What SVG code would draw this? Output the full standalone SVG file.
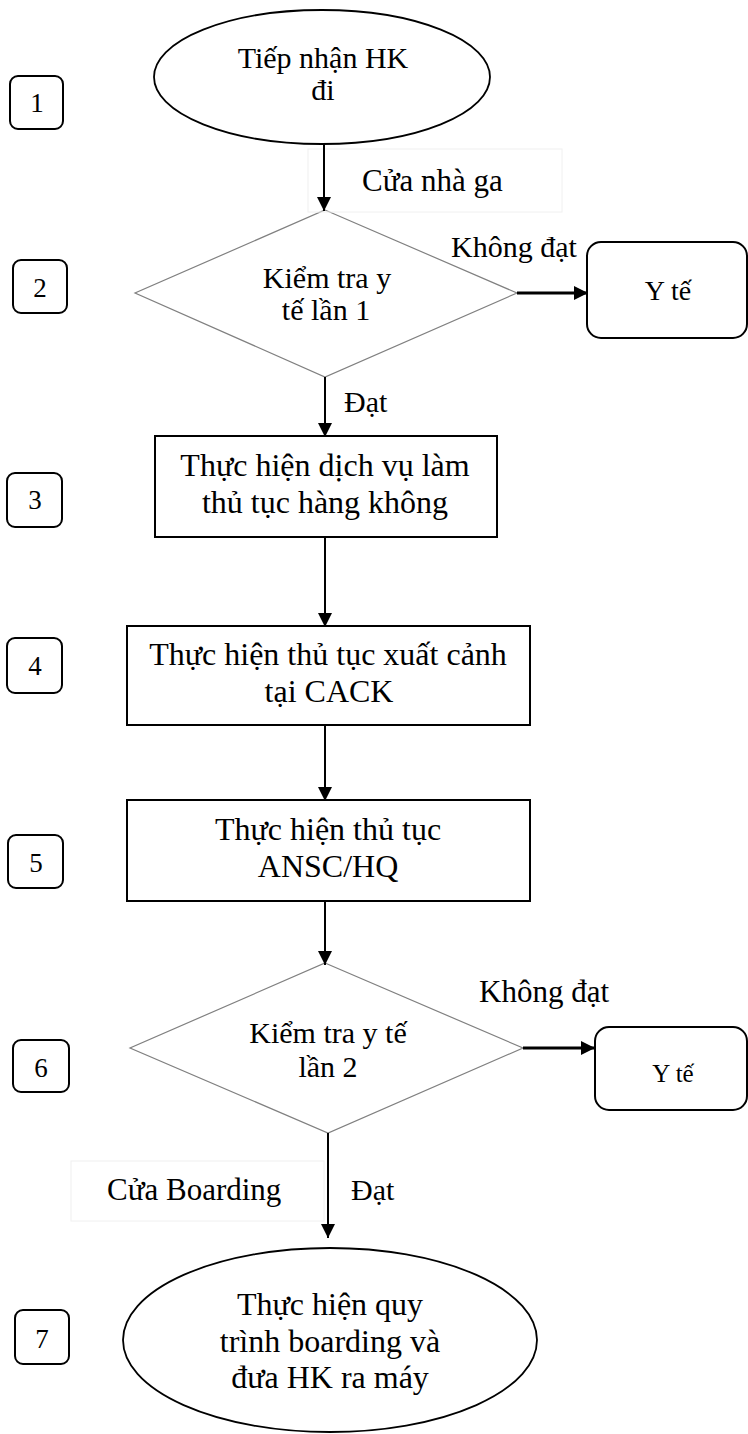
<svg xmlns="http://www.w3.org/2000/svg" width="748" height="1434" viewBox="0 0 748 1434">
<defs>
<marker id="ah" markerUnits="userSpaceOnUse" markerWidth="16" markerHeight="16" refX="14" refY="7" orient="auto">
<path d="M0,0 L14,7 L0,14 Z" fill="#000"/>
</marker>
<style>
text{font-family:"Liberation Serif","Times New Roman",serif;fill:#000}
.t30{font-size:30px}
.t32{font-size:32px}
.num{font-size:27px;text-anchor:middle}
.c{text-anchor:middle}
.nb{fill:#fff;stroke:#000;stroke-width:2}
.box{fill:#fff;stroke:#000;stroke-width:2}
.dia{fill:#fff;stroke:#808080;stroke-width:1.2}
.ell{fill:#fff;stroke:#000;stroke-width:1.8}
.conn{stroke:#000;stroke-width:2;fill:none}
.thick{stroke-width:3}
.faint{fill:none;stroke:#f0f0f0;stroke-width:1}
</style>
</defs>
<rect width="748" height="1434" fill="#fff"/>

<g id="n1-label"><rect class="nb" x="10" y="76" width="53" height="53" rx="8"/><text class="num" x="37" y="112">1</text></g>
<g id="n2-label"><rect class="nb" x="13" y="260" width="54" height="53" rx="8"/><text class="num" x="40" y="297">2</text></g>
<g id="n3-label"><rect class="nb" x="7" y="473" width="55" height="54" rx="8"/><text class="num" x="35" y="509">3</text></g>
<g id="n4-label"><rect class="nb" x="7" y="638" width="55" height="55" rx="8"/><text class="num" x="35" y="675">4</text></g>
<g id="n5-label"><rect class="nb" x="8" y="835" width="55" height="53" rx="8"/><text class="num" x="36" y="872">5</text></g>
<g id="n6-label"><rect class="nb" x="13" y="1040" width="56" height="52" rx="8"/><text class="num" x="41" y="1077">6</text></g>
<g id="n7-label"><rect class="nb" x="15" y="1310" width="54" height="54" rx="8"/><text class="num" x="42" y="1348">7</text></g>

<g id="start">
<ellipse class="ell" cx="322" cy="77" rx="168" ry="67"/>
<text class="t30 c" x="323" y="68">Tiếp nhận HK</text>
<text class="t30 c" x="323" y="100">đi</text>
</g>

<g id="check1">
<polygon class="dia" points="325,210 517,293 325,377 135,293"/>
<text class="t30 c" x="327" y="288">Kiểm tra y</text>
<text class="t30 c" x="326" y="320">tế lần 1</text>
</g>

<g id="yte1">
<rect class="box" x="587" y="242" width="160" height="96" rx="14"/>
<text class="t30 c" x="668" y="300" style="font-size:28px">Y tế</text>
</g>

<g id="checkin">
<rect class="box" x="155" y="436" width="342" height="101"/>
<text class="t32 c" x="325" y="476">Thực hiện dịch vụ làm</text>
<text class="t32 c" x="325" y="513">thủ tục hàng không</text>
</g>

<g id="exit">
<rect class="box" x="127" y="626" width="403" height="99"/>
<text class="t32 c" x="328" y="665">Thực hiện thủ tục xuất cảnh</text>
<text class="t32 c" x="329" y="702">tại CACK</text>
</g>

<g id="ansc">
<rect class="box" x="127" y="800" width="403" height="101"/>
<text class="t32 c" x="328" y="840">Thực hiện thủ tục</text>
<text class="t32 c" x="328" y="877">ANSC/HQ</text>
</g>

<g id="check2">
<polygon class="dia" points="325,963 523,1048 328,1133 130,1048"/>
<text class="t30 c" x="328" y="1043">Kiểm tra y tế</text>
<text class="t30 c" x="328" y="1077">lần 2</text>
</g>

<g id="yte2">
<rect class="box" x="595" y="1027" width="152" height="83" rx="14"/>
<text class="c" x="673" y="1082" style="font-size:25px">Y tế</text>
</g>

<g id="boarding">
<ellipse class="ell" cx="330" cy="1340" rx="207" ry="92"/>
<text class="t32 c" x="330" y="1315">Thực hiện quy</text>
<text class="t32 c" x="330" y="1352">trình boarding và</text>
<text class="t32 c" x="330" y="1388">đưa HK ra máy</text>
</g>

<g id="connectors">
<rect class="faint" x="308" y="149" width="254" height="63"/>
<rect class="faint" x="71" y="1161" width="253" height="60"/>
<line class="conn" x1="324" y1="144" x2="324" y2="211" marker-end="url(#ah)"/>
<line class="conn thick" x1="517" y1="293" x2="588" y2="293" marker-end="url(#ah)"/>
<line class="conn" x1="325" y1="377" x2="325" y2="437" marker-end="url(#ah)"/>
<line class="conn" x1="325" y1="537" x2="325" y2="627" marker-end="url(#ah)"/>
<line class="conn" x1="325" y1="725" x2="325" y2="801" marker-end="url(#ah)"/>
<line class="conn" x1="325" y1="901" x2="325" y2="965" marker-end="url(#ah)"/>
<line class="conn thick" x1="523" y1="1048" x2="595" y2="1048" marker-end="url(#ah)"/>
<line class="conn" x1="328" y1="1133" x2="328" y2="1238" marker-end="url(#ah)"/>
<text class="t30" x="362" y="191" style="font-size:31px">Cửa nhà ga</text>
<text class="t30" x="451" y="257">Không đạt</text>
<text class="t30" x="344" y="412">Đạt</text>
<text class="t30" x="479" y="1002" style="font-size:31px">Không đạt</text>
<text class="t30" x="107" y="1200" style="font-size:31px">Cửa Boarding</text>
<text class="t30" x="351" y="1200">Đạt</text>
</g>
</svg>
